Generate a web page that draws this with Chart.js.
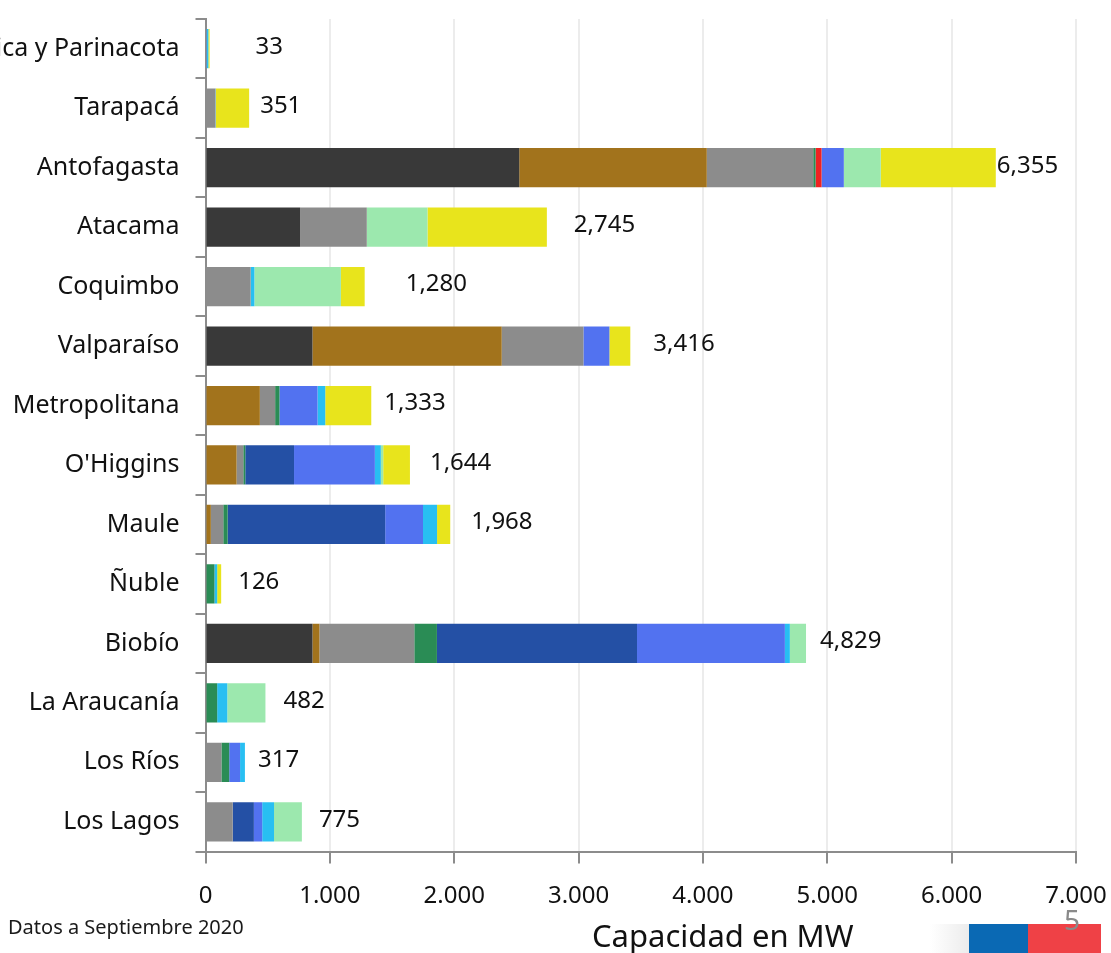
<!DOCTYPE html>
<html lang="es">
<head>
<meta charset="utf-8">
<title>Capacidad instalada por región</title>
<script src="https://cdn.jsdelivr.net/npm/chart.js@4.4.1/dist/chart.umd.min.js"></script>
<style>
  html, body { margin: 0; padding: 0; background: #fff; }
  #wrap { position: relative; width: 1111px; height: 953px; overflow: hidden; font-family: "Noto Sans", "Open Sans", sans-serif; }
  #chart { position: absolute; left: 0; top: 0; }
  .nota { position: absolute; left: 8px; top: 913px; font-size: 20px; color: #1a1a1a; white-space: nowrap; }
  .titulo-x { position: absolute; left: 592px; top: 914px; font-size: 31px; color: #111; white-space: nowrap; }
  .fade { position: absolute; left: 930px; top: 924px; width: 39px; height: 29px; background: linear-gradient(to right, #fff, #ececec); }
  .azul { position: absolute; left: 969px; top: 924px; width: 59px; height: 29px; background: #0a69b4; }
  .rojo { position: absolute; left: 1028px; top: 924px; width: 73px; height: 29px; background: #ef4146; }
  .pagina { position: absolute; left: 1064px; top: 900px; font-size: 28px; color: #8a8a8a; }
</style>
</head>
<body>
<div id="wrap">
  <canvas id="chart" width="1111" height="953"></canvas>
  <div class="nota">Datos a Septiembre 2020</div>
  <div class="titulo-x">Capacidad en MW</div>
  <div class="fade"></div>
  <div class="azul"></div>
  <div class="rojo"></div>
  <div class="pagina">5</div>
</div>
<script>
// Capacidad instalada (MW) por región y tecnología
const regiones = ['Arica y Parinacota', 'Tarapacá', 'Antofagasta', 'Atacama', 'Coquimbo', 'Valparaíso',
  'Metropolitana', "O'Higgins", 'Maule', 'Ñuble', 'Biobío', 'La Araucanía', 'Los Ríos', 'Los Lagos'];

const carbon       = [0,   0, 2523, 761,   0,  860,   0,   0,    0,  0,  860,   0,   0,   0];
const gasNatural   = [0,   0, 1508,   0,   0, 1522, 437, 250,   43,  0,   56,   0,   0,   0];
const diesel       = [0,  80,  856, 536, 363,  657, 123,  54,  100,  0,  763,   0, 128, 219];
const biomasa      = [0,   0,   19,   0,   0,    0,  35,  16,   35, 72,  182,  94,  63,   0];
const geotermia    = [0,   0,   48,   0,   0,    0,   0,   0,    0,  0,    0,   0,   0,   0];
const hidroEmbalse = [0,   0,    0,   0,   0,    0,   0, 392, 1267,  0, 1609,   0,   0, 170];
const hidroPasada  = [10,  0,  179,   0,   0,  209, 306, 650,  304,  0, 1189,   0,  87,  67];
const miniHidro    = [13,  3,    0,   0,  30,    0,  62,  48,  113, 22,   40,  81,  39,  95];
const eolica       = [0,   0,  297, 488, 696,    0,   0,  19,    0,  0,  130, 307,   0, 224];
const solar        = [10, 268, 925, 960, 191,  168, 370, 215,  106, 32,    0,   0,   0,   0];

const ejeTicks = [0, 1000, 2000, 3000, 4000, 5000, 6000, 7000];

// separación (px) entre el final de cada barra y su total
const separacionTotal = [46, 11, 1, 27, 41, 23, 13, 20, 21, 17, 14, 18, 13, 17];

const series = [
  { label: 'Carbón', data: carbon, color: '#393939' },
  { label: 'Gas Natural', data: gasNatural, color: '#a2731c' },
  { label: 'Petróleo Diésel', data: diesel, color: '#8c8c8c' },
  { label: 'Biomasa', data: biomasa, color: '#2a8c55' },
  { label: 'Geotermia', data: geotermia, color: '#ee2222' },
  { label: 'Hidráulica Embalse', data: hidroEmbalse, color: '#2450a5' },
  { label: 'Hidráulica Pasada', data: hidroPasada, color: '#5272f0' },
  { label: 'Mini Hidráulica', data: miniHidro, color: '#28bff2' },
  { label: 'Eólica', data: eolica, color: '#9ce8ae' },
  { label: 'Solar', data: solar, color: '#e8e41c' }
];

const totales = regiones.map((_, i) => series.reduce((s, d) => s + d.data[i], 0));

const fmtMiles = (v, sep) => String(v).replace(/\B(?=(\d{3})+(?!\d))/g, sep);

const FUENTE = '"Noto Sans", "Open Sans", sans-serif';
const GRIS_EJE = '#8c8c8c';

// sin relleno automático: el área del gráfico queda fijada por layout.padding
function sinRelleno(scale) {
  scale.paddingTop = 0;
  scale.paddingBottom = 0;
  scale.paddingLeft = 0;
  scale.paddingRight = 0;
}

// escribe el total de cada región a la derecha de su barra
const totalesPlugin = {
  id: 'totales',
  afterDatasetsDraw(chart) {
    const ctx = chart.ctx;
    const x = chart.scales.x;
    const y = chart.scales.y;
    ctx.save();
    ctx.font = '24px ' + FUENTE;
    ctx.fillStyle = '#111';
    ctx.textAlign = 'left';
    ctx.textBaseline = 'middle';
    totales.forEach((t, i) => {
      const px = x.getPixelForValue(t) + separacionTotal[i];
      const py = y.getPixelForValue(i) - 2;
      ctx.fillText(fmtMiles(t, ','), px, py);
    });
    ctx.restore();
  }
};

new Chart(document.getElementById('chart'), {
  type: 'bar',
  data: {
    labels: regiones,
    datasets: series.map(s => ({
      label: s.label,
      data: s.data,
      backgroundColor: s.color,
      borderWidth: 0,
      barPercentage: 0.66,
      categoryPercentage: 1
    }))
  },
  options: {
    indexAxis: 'y',
    responsive: false,
    animation: false,
    layout: { padding: { top: 19, right: 35, left: 0, bottom: 0 } },
    plugins: {
      legend: { display: false },
      tooltip: { enabled: false }
    },
    scales: {
      x: {
        stacked: true,
        min: 0,
        max: 7000,
        afterBuildTicks(scale) {
          scale.ticks = ejeTicks.map(v => ({ value: v }));
        },
        afterFit(scale) {
          scale.height = 101.5;
          sinRelleno(scale);
        },
        border: { color: GRIS_EJE, width: 2 },
        grid: {
          color: '#ececec',
          lineWidth: 2,
          tickColor: GRIS_EJE,
          tickLength: 12,
          tickWidth: 2
        },
        ticks: {
          color: '#111',
          padding: 18,
          maxRotation: 0,
          font: { family: FUENTE, size: 24 },
          callback: v => fmtMiles(v, '.')
        }
      },
      y: {
        stacked: true,
        afterFit(scale) {
          scale.width = 205.5;
          sinRelleno(scale);
        },
        border: { color: GRIS_EJE, width: 2 },
        grid: {
          drawOnChartArea: false,
          offset: true,
          color: GRIS_EJE,
          lineWidth: 2,
          tickLength: 10
        },
        ticks: {
          color: '#111',
          padding: 16,
          autoSkip: false,
          font: { family: FUENTE, size: 25 }
        }
      }
    }
  },
  plugins: [totalesPlugin]
});
</script>
</body>
</html>
